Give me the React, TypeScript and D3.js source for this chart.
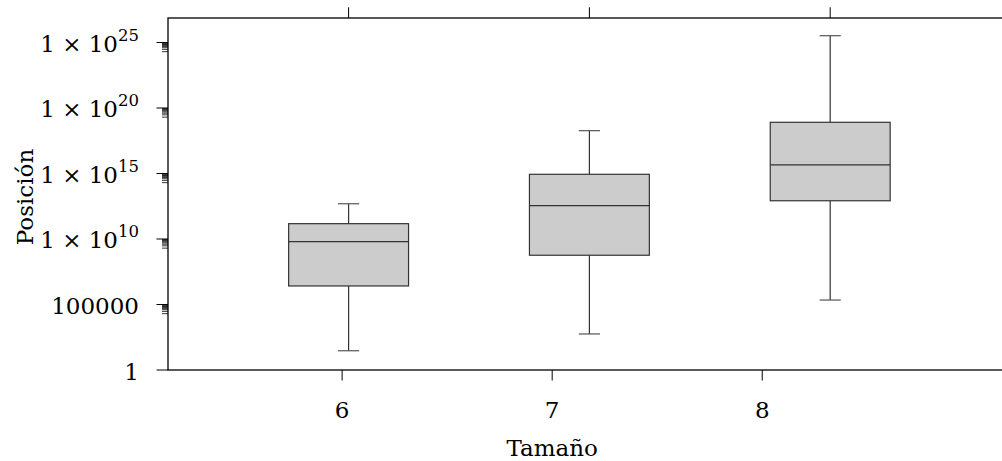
import React from 'react';
import * as d3 from 'd3';

// box statistics per board size
const sizes = [6, 7, 8];
const lowerWhisker = [29.5, 562, 2.19e5];
const q1 = [2.6e6, 5.75e8, 8.3e12];
const median = [6.2e9, 3.5e12, 4.5e15];
const q3 = [1.48e11, 8.7e14, 8.1e18];
const upperWhisker = [4.9e12, 1.86e18, 3.3e25];

const yMajorExp = [0, 5, 10, 15, 20, 25];
const xTickValues = [6, 7, 8];

const width = 1002;
const height = 461;
const margin = { top: 18, left: 168, bottom: 91 };
const plotRight = 1071;
const fontFamily = "'DejaVu Serif', serif";

const App = () => {
  const plotBottom = height - margin.bottom;

  const y = d3.scaleLog()
    .domain([1, Math.pow(10, 26.87)])
    .range([plotBottom, margin.top]);

  // boxes and top ticks
  const xBox = d3.scaleLinear().domain([5.25, 9.0]).range([margin.left, plotRight]);
  // bottom axis ticks
  const xAxis = d3.scaleLinear().domain([5.171, 9.47]).range([margin.left, plotRight]);

  const boxHalf = 0.249;
  const capHalf = 0.044;

  // minor ticks: 2..9 x 10^(k-1) below each labelled decade
  const minorTicks: number[] = [];
  yMajorExp.forEach(k => {
    if (k === 0) return;
    for (let m = 2; m <= 9; m++) minorTicks.push(m * Math.pow(10, k - 1));
  });

  const boxStroke = '#333';

  return (
    <svg width={width} height={height} style={{ position: 'absolute', left: 0, top: 0, background: '#fff' }}
      fontFamily={fontFamily}>
      {/* boxes */}
      {sizes.map((s, i) => {
        const cx = xBox(s);
        const x0 = xBox(s - boxHalf);
        const x1 = xBox(s + boxHalf);
        const c0 = xBox(s - capHalf);
        const c1 = xBox(s + capHalf);
        return (
          <g key={s} stroke={boxStroke} strokeWidth={1.2}>
            <line x1={cx} x2={cx} y1={y(upperWhisker[i])} y2={y(q3[i])} />
            <line x1={cx} x2={cx} y1={y(q1[i])} y2={y(lowerWhisker[i])} />
            <line x1={c0} x2={c1} y1={y(upperWhisker[i])} y2={y(upperWhisker[i])} stroke="#555" />
            <line x1={c0} x2={c1} y1={y(lowerWhisker[i])} y2={y(lowerWhisker[i])} stroke="#555" />
            <rect x={x0} y={y(q3[i])} width={x1 - x0} height={y(q1[i]) - y(q3[i])} fill="#cccccc" />
            <line x1={x0} x2={x1} y1={y(median[i])} y2={y(median[i])} />
          </g>
        );
      })}

      {/* frame */}
      <rect x={margin.left} y={margin.top} width={plotRight - margin.left} height={plotBottom - margin.top}
        fill="none" stroke="#000" strokeWidth={1.3} />

      {/* bottom ticks */}
      {xTickValues.map(v => (
        <g key={'b' + v}>
          <line x1={xAxis(v)} x2={xAxis(v)} y1={plotBottom} y2={plotBottom + 10.5} stroke="#000" strokeWidth={1} />
          <text x={xAxis(v)} y={plotBottom + 48} textAnchor="middle" fontSize={23} fill="#000">{v}</text>
        </g>
      ))}

      {/* top ticks */}
      {sizes.map(v => (
        <line key={'t' + v} x1={xBox(v)} x2={xBox(v)} y1={margin.top} y2={margin.top - 10.7} stroke="#000" strokeWidth={1} />
      ))}

      {/* y minor ticks */}
      {minorTicks.map((v, i) => (
        <line key={'m' + i} x1={margin.left - 6} x2={margin.left} y1={y(v)} y2={y(v)} stroke="#000" strokeWidth={0.8} />
      ))}

      {/* y major ticks and labels */}
      {yMajorExp.map(k => {
        const ty = y(Math.pow(10, k));
        return (
          <g key={'y' + k}>
            <line x1={margin.left - 11.5} x2={margin.left} y1={ty} y2={ty} stroke="#000" strokeWidth={1} />
            {k <= 5 ? (
              <text x={139} y={ty + 9.5} textAnchor="end" fontSize={23} fill="#000">
                {String(Math.pow(10, k))}
              </text>
            ) : (
              <text x={139} y={ty + 9.5} textAnchor="end" fontSize={23} fill="#000">
                {'1 × 10'}
                <tspan fontSize={16.5} dy={-11}>{k}</tspan>
              </text>
            )}
          </g>
        );
      })}

      {/* axis titles */}
      <text x={xAxis(7)} y={456} textAnchor="middle" fontSize={23} fill="#000">Tamaño</text>
      <text transform={`translate(33, ${(margin.top + plotBottom) / 2 + 3}) rotate(-90)`} textAnchor="middle"
        fontSize={23} fill="#000">Posición</text>
    </svg>
  );
};

export default App;
